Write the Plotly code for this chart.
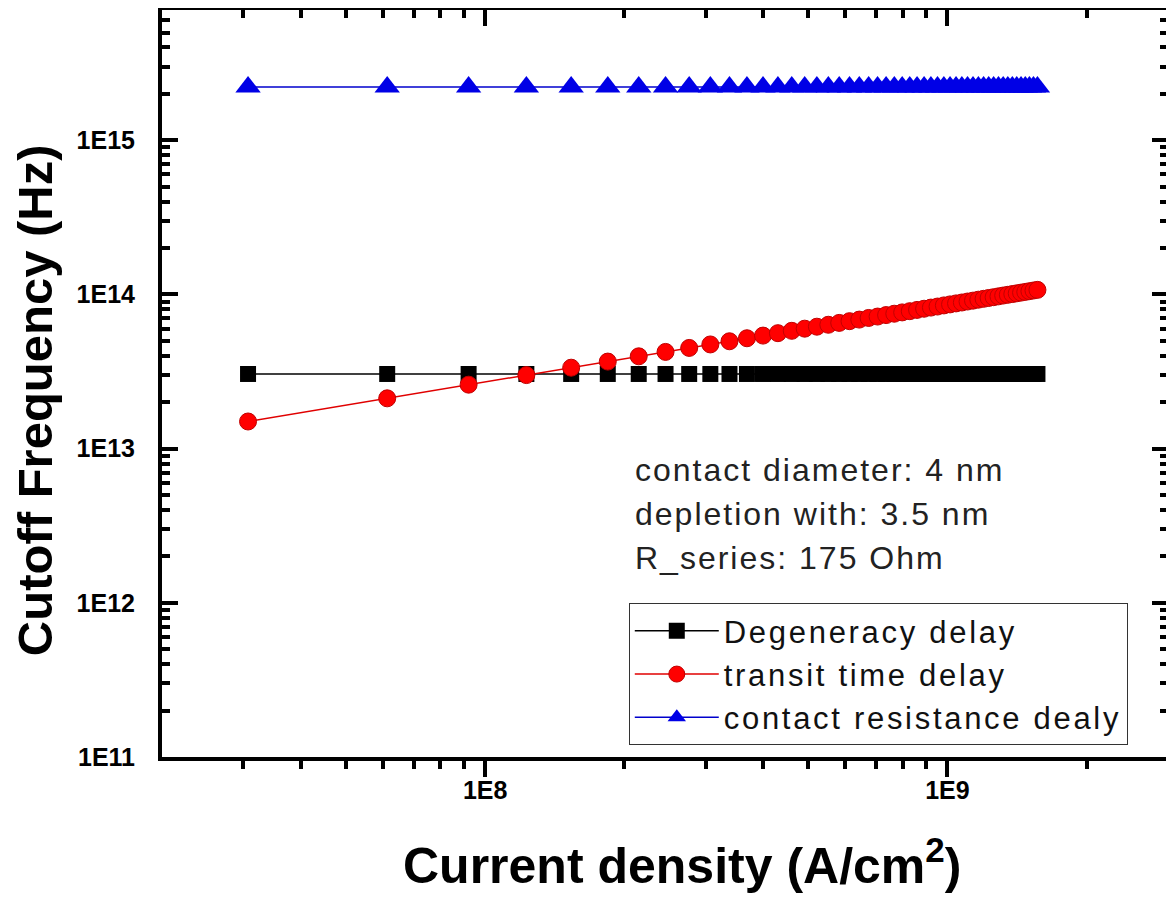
import plotly.graph_objects as go

# ---- data ----
current_density = [
    3.07e7, 6.14e7, 9.21e7, 1.228e8, 1.535e8, 1.842e8, 2.149e8, 2.456e8, 2.763e8, 3.070e8,
    3.377e8, 3.684e8, 3.991e8, 4.298e8, 4.605e8, 4.912e8, 5.219e8, 5.526e8, 5.833e8, 6.140e8,
    6.447e8, 6.754e8, 7.061e8, 7.368e8, 7.675e8, 7.982e8, 8.289e8, 8.596e8, 8.903e8, 9.210e8,
    9.517e8, 9.824e8, 1.0131e9, 1.0438e9, 1.0745e9, 1.1052e9, 1.1359e9, 1.1666e9, 1.1973e9, 1.2280e9,
    1.2587e9, 1.2894e9, 1.3201e9, 1.3508e9, 1.3815e9, 1.4122e9, 1.4429e9, 1.4736e9, 1.5043e9, 1.5350e9,
    1.5657e9,
]

degeneracy_delay = [
    3.05e13, 3.05e13, 3.05e13, 3.05e13, 3.05e13, 3.05e13, 3.05e13, 3.05e13, 3.05e13, 3.05e13,
    3.05e13, 3.05e13, 3.05e13, 3.05e13, 3.05e13, 3.05e13, 3.05e13, 3.05e13, 3.05e13, 3.05e13,
    3.05e13, 3.05e13, 3.05e13, 3.05e13, 3.05e13, 3.05e13, 3.05e13, 3.05e13, 3.05e13, 3.05e13,
    3.05e13, 3.05e13, 3.05e13, 3.05e13, 3.05e13, 3.05e13, 3.05e13, 3.05e13, 3.05e13, 3.05e13,
    3.05e13, 3.05e13, 3.05e13, 3.05e13, 3.05e13, 3.05e13, 3.05e13, 3.05e13, 3.05e13, 3.05e13,
    3.05e13,
]

transit_time_delay = [
    1.50e13, 2.12e13, 2.60e13, 3.00e13, 3.35e13, 3.67e13, 3.97e13, 4.24e13, 4.50e13, 4.74e13,
    4.97e13, 5.20e13, 5.41e13, 5.61e13, 5.81e13, 6.00e13, 6.18e13, 6.36e13, 6.54e13, 6.71e13,
    6.87e13, 7.04e13, 7.19e13, 7.35e13, 7.50e13, 7.65e13, 7.79e13, 7.94e13, 8.08e13, 8.22e13,
    8.35e13, 8.49e13, 8.62e13, 8.75e13, 8.87e13, 9.00e13, 9.12e13, 9.25e13, 9.37e13, 9.49e13,
    9.60e13, 9.72e13, 9.84e13, 9.95e13, 1.006e14, 1.017e14, 1.028e14, 1.039e14, 1.050e14, 1.061e14,
    1.071e14,
]

contact_resistance_delay = [
    2.22e15, 2.22e15, 2.22e15, 2.22e15, 2.22e15, 2.22e15, 2.22e15, 2.22e15, 2.22e15, 2.22e15,
    2.22e15, 2.22e15, 2.22e15, 2.22e15, 2.22e15, 2.22e15, 2.22e15, 2.22e15, 2.22e15, 2.22e15,
    2.22e15, 2.22e15, 2.22e15, 2.22e15, 2.22e15, 2.22e15, 2.22e15, 2.22e15, 2.22e15, 2.22e15,
    2.22e15, 2.22e15, 2.22e15, 2.22e15, 2.22e15, 2.22e15, 2.22e15, 2.22e15, 2.22e15, 2.22e15,
    2.22e15, 2.22e15, 2.22e15, 2.22e15, 2.22e15, 2.22e15, 2.22e15, 2.22e15, 2.22e15, 2.22e15,
    2.22e15,
]

series_names = ["Degeneracy delay", "transit time delay", "contact resistance dealy"]

x_tickvals = [1e8, 1e9]
x_ticktext = ["1E8", "1E9"]
x_minor = [3e7, 4e7, 5e7, 6e7, 7e7, 8e7, 9e7,
           2e8, 3e8, 4e8, 5e8, 6e8, 7e8, 8e8, 9e8, 2e9, 3e9]
y_tickvals = [1e11, 1e12, 1e13, 1e14, 1e15]
y_ticktext = ["1E11", "1E12", "1E13", "1E14", "1E15"]
y_minor = [2e11, 3e11, 4e11, 5e11, 6e11, 7e11, 8e11, 9e11,
           2e12, 3e12, 4e12, 5e12, 6e12, 7e12, 8e12, 9e12,
           2e13, 3e13, 4e13, 5e13, 6e13, 7e13, 8e13, 9e13,
           2e14, 3e14, 4e14, 5e14, 6e14, 7e14, 8e14, 9e14,
           2e15, 3e15, 4e15, 5e15, 6e15, 7e15]

info_lines = ["contact diameter: 4 nm", "depletion with: 3.5 nm", "R_series: 175 Ohm"]

FONT = "Liberation Sans, Arial, sans-serif"


def spaced(text, px):
    return '<span style="letter-spacing:%spx">%s</span>' % (px, text)


fig = go.Figure()
fig.add_trace(go.Scatter(
    x=current_density, y=degeneracy_delay, name=spaced(series_names[0], 2.7), mode="lines+markers",
    line=dict(color="black", width=1.5),
    marker=dict(symbol="square", size=16, color="black")))
fig.add_trace(go.Scatter(
    x=current_density, y=transit_time_delay, name=spaced(series_names[1], 2.7), mode="lines+markers",
    line=dict(color="#e00000", width=1.5),
    marker=dict(symbol="circle", size=17, color="#ff0000", line=dict(color="#c00000", width=1))))
fig.add_trace(go.Scatter(
    x=current_density, y=contact_resistance_delay, name=spaced(series_names[2], 2.7), mode="lines+markers",
    line=dict(color="#0000cc", width=1.5),
    marker=dict(symbol="triangle-up", size=22, color="#0000e6")))
# empty trace so that the top (mirror) axis is drawn
fig.add_trace(go.Scatter(x=[], y=[], xaxis="x2", yaxis="y", showlegend=False, hoverinfo="skip"))

xrange = [7.30103, 9.4771]
fig.update_layout(
    width=1166, height=891,
    margin=dict(l=154, r=6, t=2, b=142, autoexpand=False),
    paper_bgcolor="white", plot_bgcolor="white",
    font=dict(family=FONT, color="black"),
    showlegend=True,
    xaxis=dict(
        type="log", range=xrange, showgrid=False, zeroline=False, automargin=False,
        showline=True, linecolor="black", linewidth=4, mirror=False,
        ticks="outside", ticklen=16, tickwidth=4, tickcolor="black",
        tickmode="array", tickvals=x_tickvals, ticktext=x_ticktext,
        tickfont=dict(size=25, weight="bold", family=FONT),
        ticklabelstandoff=-8,
        minor=dict(tickmode="array", tickvals=x_minor, ticks="outside",
                   ticklen=8, tickwidth=4, tickcolor="black", showgrid=False),
    ),
    xaxis2=dict(
        type="log", range=xrange, overlaying="x", side="top", showgrid=False, zeroline=False,
        automargin=False,
        showline=True, linecolor="black", linewidth=4,
        ticks="inside", ticklen=16, tickwidth=4, tickcolor="black",
        tickmode="array", tickvals=x_tickvals, showticklabels=False,
        minor=dict(tickmode="array", tickvals=x_minor, ticks="inside",
                   ticklen=8, tickwidth=4, tickcolor="black", showgrid=False),
    ),
    yaxis=dict(
        type="log", range=[11, 15.845], showgrid=False, zeroline=False, automargin=False,
        showline=True, linecolor="black", linewidth=4, mirror="ticks",
        ticks="inside", ticklen=16, tickwidth=4, tickcolor="black",
        tickmode="array", tickvals=y_tickvals, ticktext=y_ticktext,
        tickfont=dict(size=25, weight="bold", family=FONT),
        ticklabelstandoff=18,
        minor=dict(tickmode="array", tickvals=y_minor, ticks="inside",
                   ticklen=8, tickwidth=4, tickcolor="black", showgrid=False),
    ),
    legend=dict(
        x=0.464, y=0.206, xanchor="left", yanchor="top",
        bgcolor="white", bordercolor="#333333", borderwidth=1,
        font=dict(size=31, family=FONT, color="#111111"),
        itemwidth=84, tracegroupgap=0,
    ),
)

annotations = [
    dict(text="Current density (A/cm<sup>2</sup>)", xref="paper", yref="paper",
         x=0.517, y=-0.1406, xanchor="center", yanchor="middle", showarrow=False,
         font=dict(size=50, weight="bold", family=FONT, color="black")),
    dict(text="Cutoff Frequency (Hz)", xref="paper", yref="paper",
         x=-0.126, y=0.478, xanchor="center", yanchor="middle", showarrow=False,
         textangle=-90,
         font=dict(size=49, weight="bold", family=FONT, color="black")),
]
for line, ypix in zip(info_lines, [470, 514, 558]):
    annotations.append(dict(
        text=spaced(line, 2), xref="paper", yref="paper",
        x=(633 - 162) / 1006, y=1 - (ypix - 10) / 747,
        xanchor="left", yanchor="middle", showarrow=False,
        font=dict(size=32, family=FONT, color="#222222")))
fig.update_layout(annotations=annotations)

fig.write_html("out.html")
